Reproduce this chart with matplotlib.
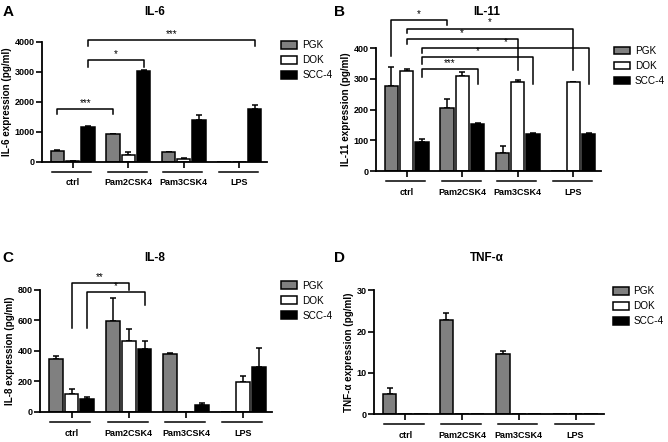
import matplotlib
matplotlib.use('Agg')
import matplotlib.pyplot as plt
import numpy as np

plt.rcParams['font.family'] = ['Liberation Sans', 'DejaVu Sans']

groups = ['ctrl', 'Pam2CSK4', 'Pam3CSK4', 'LPS']
series = ['PGK', 'DOK', 'SCC-4']
colors = ['#808080', 'white', 'black']

# IL-6
il6_pgk = [380, 930, 330, 0]
il6_pgk_err = [20, 15, 15, 0]
il6_dok = [30, 230, 90, 0]
il6_dok_err = [10, 90, 50, 0]
il6_scc = [1180, 3040, 1400, 1780]
il6_scc_err = [15, 20, 180, 130]

# IL-11
il11_pgk = [277, 206, 60, 0]
il11_pgk_err = [63, 27, 20, 0]
il11_dok = [326, 309, 289, 289]
il11_dok_err = [7, 14, 7, 0]
il11_scc = [95, 153, 121, 121]
il11_scc_err = [9, 2, 4, 2]

# IL-8
il8_pgk = [349, 595, 377, 0]
il8_pgk_err = [17, 152, 11, 0]
il8_dok = [115, 468, 0, 198]
il8_dok_err = [33, 79, 0, 37]
il8_scc = [87, 416, 48, 298]
il8_scc_err = [11, 52, 13, 122]

# TNF-a
tnf_pgk = [4.8, 22.7, 14.5, 0]
tnf_pgk_err = [1.6, 1.8, 0.7, 0]
tnf_dok = [0, 0, 0, 0]
tnf_dok_err = [0, 0, 0, 0]
tnf_scc = [0, 0, 0, 0]
tnf_scc_err = [0, 0, 0, 0]

# significance brackets: (series, group) left, (series, group) right, top, left foot, right foot, label
il6_sig = [((0, 0), (0, 1), 1770, 1590, 1590, '***'),
           ((2, 0), (2, 1), 3390, 3180, 3180, '*'),
           ((2, 0), (2, 3), 4060, 3860, 3860, '***')]
il11_sig = [((0, 0), (0, 1), 493, 375, 475, '*'),
            ((1, 0), (1, 3), 464, 448, 329, '*'),
            ((1, 0), (1, 2), 430, 415, 329, '*'),
            ((2, 0), (2, 3), 401, 383, 285, '*'),
            ((2, 0), (2, 2), 370, 350, 285, '*'),
            ((2, 0), (2, 1), 333, 305, 285, '***')]
il8_sig = [((1, 0), (1, 1), 847, 551, 802, '**'),
           ((2, 0), (2, 1), 784, 551, 699, '*')]

fig = plt.figure(figsize=(6.68, 4.42), dpi=100)

off = 0.275
bw = 0.24


def panel(rect, vals, errs, ymax, yticks, ylabel, sig, title, letter, title_xy, letter_xy, leg_xy):
    ax = fig.add_axes(rect)
    x = np.arange(len(groups))
    for i in range(3):
        xs = x + (i - 1) * off
        v = np.array(vals[i], dtype=float)
        e = np.array(errs[i], dtype=float)
        ax.bar(xs, v, bw, color=colors[i], edgecolor='black', linewidth=1.1,
               label=series[i], zorder=2)
        m = v > 0
        ax.errorbar(xs[m], v[m], yerr=[np.zeros(m.sum()), e[m]], fmt='none',
                    ecolor='black', elinewidth=1.1, capsize=2.5, capthick=1.1, zorder=1)
    ax.set_xlim(-0.55, 3.5)
    ax.set_ylim(0, ymax)
    ax.set_yticks(yticks)
    ax.set_yticklabels([str(t) for t in yticks], fontsize=6.5, fontweight='bold')
    ax.set_xticks(x)
    ax.set_xticklabels([])
    ax.tick_params(axis='both', direction='out', length=4, width=1.2, pad=1.5)
    ax.spines['top'].set_visible(False)
    ax.spines['right'].set_visible(False)
    ax.spines['left'].set_linewidth(1.3)
    ax.spines['bottom'].set_linewidth(1.3)
    ax.set_ylabel(ylabel, fontsize=7.1, fontweight='bold', labelpad=2)
    tr = ax.get_xaxis_transform()
    for g in range(len(groups)):
        ax.plot([g - 0.37, g + 0.33], [-0.083, -0.083], color='black', lw=1.1,
                transform=tr, clip_on=False)
        ax.text(g, -0.175, groups[g], transform=tr, ha='center', va='center',
                fontsize=6.5, fontweight='bold')
    for (a, b, top, fa, fb, lab) in sig:
        x1 = a[1] + (a[0] - 1) * off
        x2 = b[1] + (b[0] - 1) * off
        ax.plot([x1, x1, x2, x2], [fa, top, top, fb], color='black', lw=1.1,
                clip_on=False)
        ax.text((x1 + x2) / 2, top + ymax * 0.008, lab, ha='center', va='bottom',
                fontsize=7, clip_on=False)
    fig.text(title_xy[0], title_xy[1], title, ha='center', va='center',
             fontsize=8.5, fontweight='bold')
    fig.text(letter_xy[0], letter_xy[1], letter, ha='left', va='center',
             fontsize=11, fontweight='bold')
    ax.legend(loc='upper left', bbox_to_anchor=leg_xy, bbox_transform=fig.transFigure,
              frameon=False, fontsize=7.2, handlelength=1.6, handleheight=0.8,
              labelspacing=0.5, handletextpad=0.5, borderaxespad=0)
    return ax


panel([0.063, 0.6335, 0.337, 0.2715],
      [il6_pgk, il6_dok, il6_scc], [il6_pgk_err, il6_dok_err, il6_scc_err],
      4000, [0, 1000, 2000, 3000, 4000], 'IL-6 expression (pg/ml)', il6_sig,
      'IL-6', 'A', (0.232, 0.973), (0.004, 0.973), (0.415, 0.918))

panel([0.563, 0.613, 0.337, 0.278],
      [il11_pgk, il11_dok, il11_scc], [il11_pgk_err, il11_dok_err, il11_scc_err],
      400, [0, 100, 200, 300, 400], 'IL-11 expression (pg/ml)', il11_sig,
      'IL-11', 'B', (0.729, 0.973), (0.5, 0.973), (0.913, 0.905))

panel([0.060, 0.068, 0.347, 0.276],
      [il8_pgk, il8_dok, il8_scc], [il8_pgk_err, il8_dok_err, il8_scc_err],
      800, [0, 200, 400, 600, 800], 'IL-8 expression (pg/ml)', il8_sig,
      'IL-8', 'C', (0.232, 0.416), (0.004, 0.416), (0.415, 0.374))

panel([0.560, 0.063, 0.344, 0.2805],
      [tnf_pgk, tnf_dok, tnf_scc], [tnf_pgk_err, tnf_dok_err, tnf_scc_err],
      30, [0, 10, 20, 30], 'TNF-\u03b1 expression (pg/ml)', [],
      'TNF-\u03b1', 'D', (0.729, 0.416), (0.5, 0.416), (0.911, 0.361))

fig.savefig('out.png', dpi=100)
